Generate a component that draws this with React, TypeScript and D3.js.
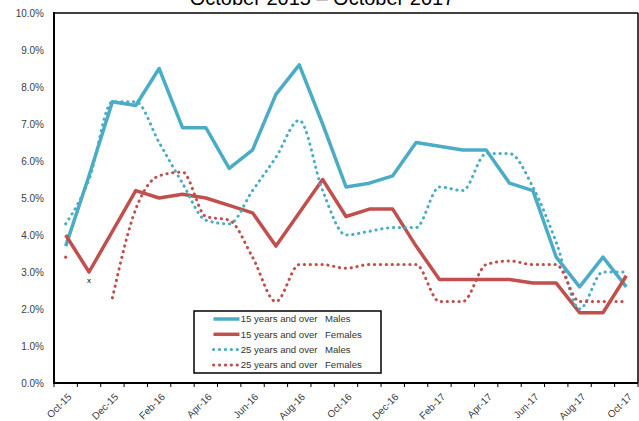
import React from 'react';
import * as d3 from 'd3';

const months = [
  'Oct-15', 'Nov-15', 'Dec-15', 'Jan-16', 'Feb-16', 'Mar-16', 'Apr-16', 'May-16', 'Jun-16',
  'Jul-16', 'Aug-16', 'Sep-16', 'Oct-16', 'Nov-16', 'Dec-16', 'Jan-17', 'Feb-17', 'Mar-17',
  'Apr-17', 'May-17', 'Jun-17', 'Jul-17', 'Aug-17', 'Sep-17', 'Oct-17',
];
const tickLabels = months.filter((_, i) => i % 2 === 0);
const yTicks = [0, 1, 2, 3, 4, 5, 6, 7, 8, 9, 10];

const males15 = [3.7, 5.6, 7.6, 7.5, 8.5, 6.9, 6.9, 5.8, 6.3, 7.8, 8.6, 7.0, 5.3, 5.4, 5.6, 6.5, 6.4, 6.3, 6.3, 5.4, 5.2, 3.4, 2.6, 3.4, 2.6];
const females15 = [4.0, 3.0, 4.1, 5.2, 5.0, 5.1, 5.0, 4.8, 4.6, 3.7, 4.6, 5.5, 4.5, 4.7, 4.7, 3.7, 2.8, 2.8, 2.8, 2.8, 2.7, 2.7, 1.9, 1.9, 2.9];
const males25 = [4.3, 5.5, 7.6, 7.6, 6.5, 5.4, 4.4, 4.3, 5.2, 6.1, 7.1, 5.2, 4.0, 4.1, 4.2, 4.2, 5.3, 5.2, 6.2, 6.2, 5.3, 3.8, 2.0, 3.0, 3.0];
const females25: (number | null)[] = [3.4, null, 2.3, 4.7, 5.6, 5.7, 4.5, 4.4, 3.4, 2.2, 3.2, 3.2, 3.1, 3.2, 3.2, 3.2, 2.2, 2.2, 3.2, 3.3, 3.2, 3.2, 2.2, 2.2, 2.2];

const seriesNames = ['15 years and over', '15 years and over', '25 years and over', '25 years and over'];
const seriesGroups = ['Males', 'Females', 'Males', 'Females'];
const missingMarkLabel = 'x';
const missingMarkMonth = 'Nov-15';
const titleText = 'October 2015 \u2013 October 2017';

const BLUE = '#4BACC6';
const RED = '#C0504D';
const FONT = '"Liberation Sans", Arial, sans-serif';

export default function App() {
  const W = 639;
  const H = 421;
  const left = 54;
  const right = 638;
  const top = 13;
  const bottom = 383;

  const x = d3.scaleBand<string>().domain(months).range([left, right]);
  const y = d3.scaleLinear().domain([0, 10]).range([bottom, top]);
  const cx = (m: string) => (x(m) as number) + x.bandwidth() / 2;

  const series = [
    { values: males15 as (number | null)[], color: BLUE, dotted: false },
    { values: females15 as (number | null)[], color: RED, dotted: false },
    { values: males25 as (number | null)[], color: BLUE, dotted: true },
    { values: females25, color: RED, dotted: true },
  ];

  const straight = d3
    .line<number | null>()
    .defined((d) => d != null)
    .x((_, i) => cx(months[i]))
    .y((d) => y(d as number));
  const smooth = d3
    .line<number | null>()
    .defined((d) => d != null)
    .x((_, i) => cx(months[i]))
    .y((d) => y(d as number))
    .curve(d3.curveMonotoneX);

  const isolated = (vals: (number | null)[]) =>
    vals
      .map((v, i) => ({ v, i }))
      .filter(({ v, i }) => v != null && (i === 0 || vals[i - 1] == null) && (i === vals.length - 1 || vals[i + 1] == null));

  const boundaries = months.map((m) => x(m) as number).concat([right]);

  const legendX = 194;
  const legendY = 311;
  const legendW = 187;
  const legendH = 62;
  const rowYs = [319, 334.3, 349.5, 365];

  return (
    <svg
      width={W}
      height={H}
      style={{ position: 'absolute', left: 0, top: 0, background: '#fff' }}
      fontFamily={FONT}
    >
      <rect x={0} y={0} width={W} height={H} fill="#fff" />
      <text x={322} y={4.5} fontSize={20} textAnchor="middle" fill="#000">
        {titleText}
      </text>

      {/* plot frame */}
      <line x1={left} x2={right} y1={top} y2={top} stroke="#000" strokeWidth={1.5} />
      <line x1={right} x2={right} y1={top} y2={bottom} stroke="#000" strokeWidth={1.5} />

      {/* y axis labels */}
      {yTicks.map((t) => (
        <text key={t} x={44} y={y(t)} dy="0.35em" fontSize={10} textAnchor="end" fill="#404040">
          {t.toFixed(1) + '%'}
        </text>
      ))}

      {/* x ticks */}
      {boundaries.map((b, i) => (
        <line key={i} x1={b} x2={b} y1={bottom} y2={bottom + 4} stroke="#000" strokeWidth={1} />
      ))}
      {tickLabels.map((m) => (
        <text
          key={m}
          transform={`translate(${cx(m) + 4},${bottom + 12}) rotate(-45)`}
          fontSize={10}
          textAnchor="end"
          dy="0.35em"
          fill="#404040"
        >
          {m}
        </text>
      ))}

      {/* series */}
      {series.map((s, k) => (
        <g key={k}>
          <path
            d={(s.dotted ? smooth : straight)(s.values) || ''}
            fill="none"
            stroke={s.color}
            strokeWidth={s.dotted ? 3 : 3.5}
            strokeLinejoin="round"
            strokeLinecap={s.dotted ? 'round' : 'butt'}
            strokeDasharray={s.dotted ? '0.3 5.6' : undefined}
          />
          {s.dotted &&
            isolated(s.values).map(({ v, i }) => (
              <circle key={i} cx={cx(months[i])} cy={y(v as number)} r={1.6} fill={s.color} />
            ))}
        </g>
      ))}

      {/* missing data mark */}
      <text
        x={cx(missingMarkMonth)}
        y={y(females15[months.indexOf(missingMarkMonth)]) + 11}
        fontSize={8}
        textAnchor="middle"
        fill="#000"
      >
        {missingMarkLabel}
      </text>

      {/* axes */}
      <line x1={left} x2={left} y1={top - 1} y2={bottom + 1} stroke="#000" strokeWidth={2} />
      <line x1={left - 1} x2={right} y1={bottom} y2={bottom} stroke="#000" strokeWidth={2} />

      {/* legend */}
      <rect x={legendX} y={legendY} width={legendW} height={legendH} fill="#fff" stroke="#000" strokeWidth={1.5} />
      {series.map((s, k) => (
        <g key={k}>
          <line
            x1={213.5}
            x2={239.5}
            y1={rowYs[k]}
            y2={rowYs[k]}
            stroke={s.color}
            strokeWidth={s.dotted ? 3 : 3.5}
            strokeLinecap={s.dotted ? 'round' : 'butt'}
            strokeDasharray={s.dotted ? '0.3 5.6' : undefined}
          />
          <text x={240.7} y={rowYs[k]} dy="0.35em" fontSize={9.6} fill="#333">
            {seriesNames[k]}
          </text>
          <text x={325} y={rowYs[k]} dy="0.35em" fontSize={9.6} fill="#333">
            {seriesGroups[k]}
          </text>
        </g>
      ))}
    </svg>
  );
}
